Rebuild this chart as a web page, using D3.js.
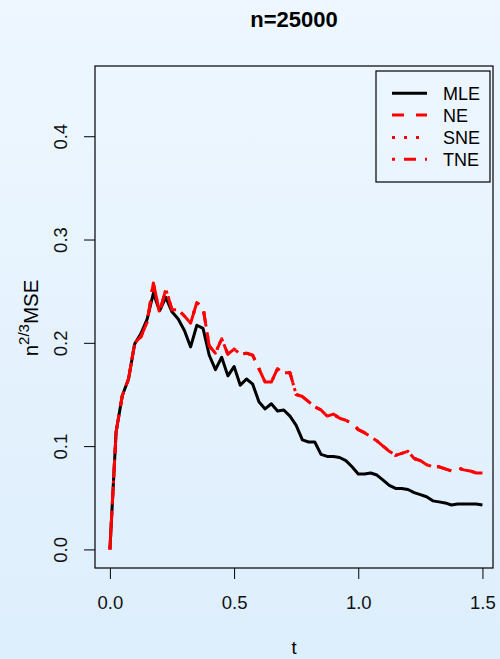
<!DOCTYPE html>
<html>
<head>
<style>
  html, body { margin: 0; padding: 0; }
  body { width: 500px; height: 659px; overflow: hidden; }
</style>
</head>
<body>
<script src="https://d3js.org/d3.v7.min.js"></script>
<script>
// values, t step 0.025
var tValues = [0, 0.025, 0.05, 0.075, 0.1, 0.125, 0.15, 0.175, 0.2, 0.225,
  0.25, 0.275, 0.3, 0.325, 0.35, 0.375, 0.4, 0.425, 0.45, 0.475,
  0.5, 0.525, 0.55, 0.575, 0.6, 0.625, 0.65, 0.675, 0.7, 0.725,
  0.75, 0.775, 0.8, 0.825, 0.85, 0.875, 0.9, 0.925, 0.95, 0.975,
  1.0, 1.025, 1.05, 1.075, 1.1, 1.125, 1.15, 1.175, 1.2, 1.225,
  1.25, 1.275, 1.3, 1.325, 1.35, 1.375, 1.4, 1.425, 1.45, 1.475, 1.5];

var mleValues = [0, 0.114, 0.149, 0.165, 0.199, 0.209, 0.223, 0.248, 0.231, 0.244,
  0.230, 0.223, 0.212, 0.196, 0.217, 0.214, 0.188, 0.174, 0.186, 0.168,
  0.177, 0.159, 0.165, 0.160, 0.143, 0.136, 0.141, 0.134, 0.135, 0.129,
  0.120, 0.106, 0.104, 0.104, 0.092, 0.090, 0.090, 0.089, 0.086, 0.080,
  0.073, 0.073, 0.074, 0.072, 0.067, 0.062, 0.059, 0.059, 0.058, 0.055,
  0.053, 0.051, 0.047, 0.046, 0.045, 0.043, 0.044, 0.044, 0.044, 0.044, 0.043];

var neValues = [0, 0.114, 0.149, 0.165, 0.200, 0.206, 0.220, 0.258, 0.229, 0.252,
  0.232, 0.232, 0.226, 0.219, 0.239, 0.234, 0.197, 0.190, 0.204, 0.189,
  0.194, 0.189, 0.190, 0.188, 0.175, 0.162, 0.162, 0.175, 0.171, 0.171,
  0.150, 0.148, 0.143, 0.138, 0.135, 0.129, 0.131, 0.127, 0.125, 0.122,
  0.116, 0.113, 0.109, 0.105, 0.100, 0.095, 0.091, 0.093, 0.095, 0.088,
  0.086, 0.082, 0.080, 0.080, 0.078, 0.076, 0.079, 0.077, 0.076, 0.074, 0.074];

// SNE and TNE lie on top of NE in the picture
var sneValues = neValues.slice();
var tneValues = neValues.slice();

var seriesNames = ["MLE", "NE", "SNE", "TNE"];
var seriesColors = ["#000000", "#ff0000", "#ff0000", "#ff0000"];
var seriesDash = [null, "12,12", "3,9", "3,9,12,9"];
var xTicks = [0, 0.5, 1, 1.5];
var yTicks = [0, 0.1, 0.2, 0.3, 0.4];

var W = 500, H = 659;
var plot = {left: 95, right: 493, top: 66, bottom: 568};

var svg = d3.select("body").append("svg")
  .attr("width", W)
  .attr("height", H)
  .style("font-family", "'Liberation Sans', Arial, sans-serif");

var grad = svg.append("defs").append("linearGradient")
  .attr("id", "bg").attr("x1", 0).attr("y1", 0).attr("x2", 0).attr("y2", 1);
grad.append("stop").attr("offset", "0%").attr("stop-color", "#eef7ff");
grad.append("stop").attr("offset", "100%").attr("stop-color", "#ddeefc");

svg.append("rect").attr("width", W).attr("height", H).attr("fill", "url(#bg)");

var x = d3.scaleLinear().domain([-0.06, 1.5425]).range([plot.left, plot.right]);
var y = d3.scaleLinear().domain([-0.018, 0.468]).range([plot.bottom, plot.top]);

// x axis
var gx = svg.append("g")
  .attr("transform", "translate(0," + plot.bottom + ")")
  .call(d3.axisBottom(x).tickValues(xTicks).tickFormat(d3.format(".1f")).tickSize(11));
gx.select(".domain").remove();
gx.selectAll("line").attr("stroke", "#000");
gx.selectAll("text")
  .attr("y", 41).attr("dy", 0)
  .attr("font-size", "18.5px").attr("fill", "#111");

// y axis
var gy = svg.append("g")
  .attr("transform", "translate(" + plot.left + ",0)")
  .call(d3.axisLeft(y).tickValues(yTicks).tickFormat(d3.format(".1f")).tickSize(11));
gy.select(".domain").remove();
gy.selectAll("line").attr("stroke", "#000");
gy.selectAll("text")
  .attr("transform", "rotate(-90)")
  .attr("x", 0).attr("y", -28).attr("dy", 0)
  .attr("text-anchor", "middle")
  .attr("font-size", "18.5px").attr("fill", "#111");

// plot box
svg.append("rect")
  .attr("x", plot.left).attr("y", plot.top)
  .attr("width", plot.right - plot.left).attr("height", plot.bottom - plot.top)
  .attr("fill", "none").attr("stroke", "#000").attr("stroke-width", 1.2);

var line = d3.line()
  .x(function(d) { return x(d[0]); })
  .y(function(d) { return y(d[1]); });

var allSeries = [mleValues, neValues, sneValues, tneValues];
allSeries.forEach(function(vals, i) {
  var pts = tValues.map(function(t, j) { return [t, vals[j]]; });
  svg.append("path")
    .datum(pts)
    .attr("d", line)
    .attr("fill", "none")
    .attr("stroke", seriesColors[i])
    .attr("stroke-width", 3)
    .attr("stroke-linejoin", "round")
    .attr("stroke-dasharray", seriesDash[i]);
});

// title and axis labels
svg.append("text")
  .attr("x", (plot.left + plot.right) / 2).attr("y", 27)
  .attr("text-anchor", "middle")
  .attr("font-size", "22px").attr("font-weight", "bold")
  .text("n=25000");

svg.append("text")
  .attr("x", (plot.left + plot.right) / 2).attr("y", 654)
  .attr("text-anchor", "middle")
  .attr("font-size", "18.5px")
  .text("t");

var ylab = svg.append("text")
  .attr("transform", "translate(38,318) rotate(-90)")
  .attr("text-anchor", "middle")
  .attr("font-size", "20.5px");
ylab.append("tspan").text("n");
ylab.append("tspan").attr("dy", -9).attr("font-size", "15px").text("2/3");
ylab.append("tspan").attr("dy", 9).text("MSE");

// legend
var leg = {x: 376, y: 71, w: 114, h: 111};
svg.append("rect")
  .attr("x", leg.x).attr("y", leg.y).attr("width", leg.w).attr("height", leg.h)
  .attr("fill", "none").attr("stroke", "#000").attr("stroke-width", 1.2);

var legY = [93.3, 115, 137.5, 159.3];
seriesNames.forEach(function(name, i) {
  svg.append("line")
    .attr("x1", 392).attr("x2", 427)
    .attr("y1", legY[i]).attr("y2", legY[i])
    .attr("stroke", seriesColors[i])
    .attr("stroke-width", 3)
    .attr("stroke-dasharray", seriesDash[i]);
  svg.append("text")
    .attr("x", 443).attr("y", legY[i] + 6.5)
    .attr("font-size", "18px")
    .text(name);
});
</script>
</body>
</html>
